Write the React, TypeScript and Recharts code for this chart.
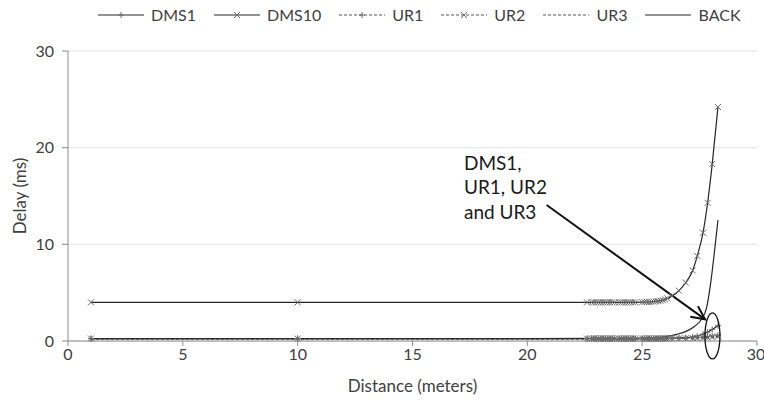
import React from 'react';
import { CartesianGrid, Line, LineChart, ReferenceDot, ReferenceLine, XAxis, YAxis } from 'recharts';

// measured distances (m) shared by the DMS / UR runs
const distances = [
  1, 10, 22.6, 22.8, 22.9, 23.0, 23.1, 23.2, 23.3, 23.4, 23.5, 23.6, 23.7, 23.8, 24.0, 24.1, 24.2, 24.3, 24.4,
  24.5, 24.6, 24.7, 25.0, 25.1, 25.2, 25.3, 25.4, 25.5, 25.6, 25.7, 25.8, 25.9, 26.0, 26.1, 26.3, 26.6, 26.9,
  27.2, 27.4, 27.65, 27.85, 28.05, 28.3
];

const dms10Delay = [
  4.0, 4.0, 4.0, 4.0, 4.0, 4.0, 4.0, 4.0, 4.0, 4.0, 4.0, 4.0, 4.0, 4.0, 4.0, 4.0, 4.0, 4.0, 4.0,
  4.0, 4.0, 4.0, 4.02, 4.03, 4.04, 4.05, 4.06, 4.08, 4.1, 4.13, 4.17, 4.22, 4.3, 4.4, 4.65, 5.2, 6.05,
  7.3, 8.8, 11.2, 14.3, 18.3, 24.2
];

const dms1Delay = [
  0.25, 0.25, 0.25, 0.25, 0.25, 0.25, 0.25, 0.25, 0.25, 0.25, 0.25, 0.25, 0.25, 0.25, 0.25, 0.25, 0.25, 0.25, 0.25,
  0.25, 0.25, 0.25, 0.25, 0.25, 0.25, 0.25, 0.25, 0.25, 0.26, 0.26, 0.27, 0.27, 0.28, 0.28, 0.29, 0.3, 0.34,
  0.42, 0.52, 0.72, 0.92, 1.2, 1.58
];

const ur1Delay = [
  0.25, 0.25, 0.25, 0.25, 0.25, 0.25, 0.25, 0.25, 0.25, 0.25, 0.25, 0.25, 0.25, 0.25, 0.25, 0.25, 0.25, 0.25, 0.25,
  0.25, 0.25, 0.25, 0.25, 0.25, 0.25, 0.25, 0.25, 0.25, 0.25, 0.25, 0.26, 0.26, 0.26, 0.27, 0.27, 0.28, 0.3,
  0.33, 0.36, 0.4, 0.45, 0.52, 0.6
];

const ur2Delay = [
  0.25, 0.25, 0.25, 0.25, 0.25, 0.25, 0.25, 0.25, 0.25, 0.25, 0.25, 0.25, 0.25, 0.25, 0.25, 0.25, 0.25, 0.25, 0.25,
  0.25, 0.25, 0.25, 0.25, 0.25, 0.25, 0.25, 0.25, 0.25, 0.25, 0.25, 0.25, 0.26, 0.26, 0.26, 0.27, 0.27, 0.28,
  0.3, 0.32, 0.35, 0.38, 0.42, 0.48
];

const ur3Delay = [
  0.25, 0.25, 0.25, 0.25, 0.25, 0.25, 0.25, 0.25, 0.25, 0.25, 0.25, 0.25, 0.25, 0.25, 0.25, 0.25, 0.25, 0.25, 0.25,
  0.25, 0.25, 0.25, 0.25, 0.25, 0.25, 0.25, 0.25, 0.25, 0.25, 0.25, 0.25, 0.25, 0.26, 0.26, 0.26, 0.27, 0.27,
  0.28, 0.3, 0.32, 0.34, 0.37, 0.4
];

// theoretical back-off curve
const backDistance = [1, 10, 20, 24, 25, 25.5, 26, 26.5, 27, 27.3, 27.6, 27.8, 28, 28.15, 28.3];
const backDelay = [0.25, 0.25, 0.25, 0.27, 0.3, 0.35, 0.45, 0.68, 1.1, 1.55, 2.3, 3.4, 6.3, 9.3, 12.5];

const xTicks = [0, 5, 10, 15, 20, 25, 30];
const yTicks = [0, 10, 20, 30];
const noteLines = ['DMS1,', 'UR1, UR2', 'and UR3'];

const zip = (xs: number[], ys: number[]) => xs.map((x, i) => ({ x, y: ys[i] }));

type Marker = 'plus' | 'cross' | 'none';

interface SeriesDef {
  name: string;
  data: { x: number; y: number }[];
  marker: Marker;
  dashed: boolean;
}

const series: SeriesDef[] = [
  { name: 'DMS1', data: zip(distances, dms1Delay), marker: 'plus', dashed: false },
  { name: 'DMS10', data: zip(distances, dms10Delay), marker: 'cross', dashed: false },
  { name: 'UR1', data: zip(distances, ur1Delay), marker: 'plus', dashed: true },
  { name: 'UR2', data: zip(distances, ur2Delay), marker: 'cross', dashed: true },
  { name: 'UR3', data: zip(distances, ur3Delay), marker: 'none', dashed: true },
  { name: 'BACK', data: zip(backDistance, backDelay), marker: 'none', dashed: false }
];

const FONT = 'Lato, "Open Sans", sans-serif';
const LINE = '#262626';
const MARK = '#6b6b6b';
const TEXT = '#404040';
const AXIS = '#8c8c8c';

const markerPath = (m: Marker, cx: number, cy: number, s: number) => {
  if (m === 'plus') return `M${cx - s},${cy}H${cx + s}M${cx},${cy - s}V${cy + s}`;
  if (m === 'cross') return `M${cx - s},${cy - s}L${cx + s},${cy + s}M${cx - s},${cy + s}L${cx + s},${cy - s}`;
  return '';
};

const makeDot = (name: string, m: Marker) => (props: any) => {
  const { cx, cy, index } = props;
  if (m === 'none' || cx == null || cy == null) return <g key={`${name}-${index}`} />;
  return <path key={`${name}-${index}`} d={markerPath(m, cx, cy, 3)} stroke={MARK} strokeWidth={1} fill="none" />;
};

const NoteText = (props: any) => {
  const { cx, cy } = props;
  return (
    <text x={cx} y={cy} fontSize={19} fill="#1a1a1a" fontFamily={FONT}>
      {noteLines.map((line, i) => (
        <tspan key={line} x={cx} dy={i === 0 ? 0 : 24.5}>
          {line}
        </tspan>
      ))}
    </text>
  );
};

const ArrowShape = (props: any) => {
  const { x1, y1, x2, y2 } = props;
  const ang = Math.atan2(y2 - y1, x2 - x1);
  const len = 15;
  const spread = 0.45;
  const ax = x2 - len * Math.cos(ang - spread);
  const ay = y2 - len * Math.sin(ang - spread);
  const bx = x2 - len * Math.cos(ang + spread);
  const by = y2 - len * Math.sin(ang + spread);
  return (
    <g stroke="#111" strokeWidth={2} fill="none">
      <line x1={x1} y1={y1} x2={x2} y2={y2} />
      <path d={`M${ax},${ay}L${x2},${y2}L${bx},${by}`} />
    </g>
  );
};

const EllipseShape = (props: any) => (
  <ellipse cx={props.cx} cy={props.cy} rx={7.5} ry={23} stroke="#111" strokeWidth={1.3} fill="none" />
);

const LegendIcon: React.FC<{ s: SeriesDef }> = ({ s }) => (
  <svg width={46} height={12} style={{ display: 'block' }}>
    <line x1={0} y1={6} x2={46} y2={6} stroke={s.dashed ? '#555' : LINE} strokeWidth={1} strokeDasharray={s.dashed ? '3 2' : undefined} />
    {s.marker !== 'none' && <path d={markerPath(s.marker, 23, 6, 3)} stroke={MARK} strokeWidth={1} fill="none" />}
  </svg>
);

const YTitle = (props: any) => {
  const { viewBox } = props;
  const cx = viewBox.x + 19;
  const cy = viewBox.y + viewBox.height / 2;
  return (
    <text x={cx} y={cy} transform={`rotate(-90 ${cx} ${cy})`} textAnchor="middle" dominantBaseline="central" fontSize={17} fill={TEXT} fontFamily={FONT}>
      Delay (ms)
    </text>
  );
};

export default function App() {
  return (
    <div style={{ position: 'absolute', left: 0, top: 0, width: 764, height: 402, background: '#fff', fontFamily: FONT }}>
      <div style={{ position: 'absolute', top: 5, left: 98, display: 'flex', alignItems: 'center', gap: 18, fontSize: 16, color: TEXT }}>
        {series.map((s) => (
          <div key={s.name} style={{ display: 'flex', alignItems: 'center', gap: 7 }}>
            <LegendIcon s={s} />
            <span>{s.name}</span>
          </div>
        ))}
      </div>
      <LineChart width={764} height={402} margin={{ top: 51, right: 7, bottom: 0, left: 0 }}>
        <CartesianGrid vertical={false} stroke="#e3e3e3" />
        <XAxis
          type="number"
          dataKey="x"
          domain={[0, 30]}
          ticks={xTicks}
          height={61}
          tickSize={5}
          tickMargin={3}
          stroke={AXIS}
          tick={{ fontSize: 16, fill: TEXT, fontFamily: FONT }}
          label={{ value: 'Distance (meters)', position: 'insideBottom', offset: 10, fontSize: 17, fill: TEXT, fontFamily: FONT }}
        />
        <YAxis
          type="number"
          dataKey="y"
          domain={[0, 30]}
          ticks={yTicks}
          width={68}
          tickSize={6}
          tickMargin={8}
          stroke={AXIS}
          tick={{ fontSize: 16, fill: TEXT, fontFamily: FONT }}
          label={<YTitle />}
        />
        {[...series].reverse().map((s) => (
          <Line
            key={s.name}
            name={s.name}
            data={s.data}
            dataKey="y"
            type="monotone"
            stroke={s.dashed ? '#444' : LINE}
            strokeWidth={1.2}
            strokeDasharray={s.dashed ? '3 2' : undefined}
            dot={makeDot(s.name, s.marker)}
            activeDot={false}
            isAnimationActive={false}
          />
        ))}
        <ReferenceLine segment={[{ x: 20.84, y: 14.07 }, { x: 27.74, y: 2.24 }]} shape={ArrowShape} ifOverflow="visible" />
        <ReferenceDot x={28.06} y={0.52} r={0} shape={EllipseShape} ifOverflow="visible" />
        <ReferenceDot x={17.24} y={17.7} r={0} shape={NoteText} ifOverflow="visible" />
      </LineChart>
    </div>
  );
}
